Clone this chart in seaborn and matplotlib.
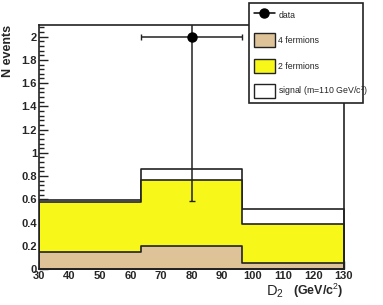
import numpy as np
import matplotlib
matplotlib.use("Agg")
import matplotlib.pyplot as plt
import seaborn as sns
from matplotlib.lines import Line2D
from matplotlib.patches import Patch
from matplotlib.ticker import MultipleLocator

# ---- data ----
bin_edges = [30.0, 63.33, 96.67, 130.0]
four_fermions_top = [0.143, 0.200, 0.048]      # 4 fermions
two_fermions_top = [0.575, 0.767, 0.390]       # 4f + 2f (stacked)
signal_top = [0.590, 0.860, 0.520]             # 4f + 2f + signal (stacked)
data_x = [80.0]
data_y = [2.0]
data_xerr = [16.67]
data_yerr = [1.414]
legend_labels = ["data", "4 fermions", "2 fermions", "signal (m=110 GeV/c$^{2}$)"]

sns.set_style("ticks")
plt.rcParams["font.family"] = ["Liberation Sans", "DejaVu Sans"]
plt.rcParams["mathtext.fontset"] = "custom"
plt.rcParams["mathtext.rm"] = "Liberation Sans"
plt.rcParams["mathtext.it"] = "Liberation Sans"
plt.rcParams["mathtext.bf"] = "Liberation Sans:bold"

fig = plt.figure(figsize=(3.83, 3.05), dpi=100)
ax = fig.add_axes([0.102, 0.118, 0.796, 0.800])

centers = [(bin_edges[i] + bin_edges[i + 1]) / 2 for i in range(len(bin_edges) - 1)]
tan = "#dec398"
yellow = "#f7f71a"
edge = "#222222"

for vals, col in [(signal_top, "white"), (two_fermions_top, yellow), (four_fermions_top, tan)]:
    sns.histplot(x=centers, weights=vals, bins=bin_edges, element="step", fill=True,
                 color=col, facecolor=col, edgecolor=edge, linewidth=1.2, alpha=1.0,
                 ax=ax, legend=False)

ax.errorbar(data_x, data_y, xerr=data_xerr, yerr=data_yerr, fmt="o", color="black",
            ecolor="#222222", markersize=6.5, elinewidth=1.1, capsize=2.2, capthick=1.0,
            zorder=10, clip_on=True)

ax.set_xlim(30, 130)
ax.set_ylim(0, 2.1)
ax.xaxis.set_major_locator(MultipleLocator(10))
ax.xaxis.set_minor_locator(MultipleLocator(2))
ax.yaxis.set_major_locator(MultipleLocator(0.2))
ax.yaxis.set_minor_locator(MultipleLocator(0.04))
ax.yaxis.set_major_formatter(plt.FuncFormatter(lambda v, p: "%g" % round(v, 2)))
ax.tick_params(which="both", direction="in", top=False, right=False, width=1.0, color="#222222")
ax.tick_params(which="major", axis="y", length=6.5)
ax.tick_params(which="minor", axis="y", length=3.3)
ax.tick_params(which="major", axis="x", length=5.5)
ax.tick_params(which="minor", axis="x", length=3.0)
ax.tick_params(axis="both", labelsize=8.0, pad=1.5)
for lab in ax.get_xticklabels() + ax.get_yticklabels():
    lab.set_fontweight("bold")
for sp in ax.spines.values():
    sp.set_visible(True)
    sp.set_linewidth(1.2)
    sp.set_color("#222222")

ax.set_xlabel("")
ax.set_ylabel("N events", fontsize=9, fontweight="bold", loc="top", labelpad=5)
ax.text(1.0, -0.108, "(GeV/c$^{2}$)", transform=ax.transAxes, ha="right", va="baseline",
        fontsize=9, fontweight="bold")
ax.text(0.744, -0.108, "D$_{2}$", transform=ax.transAxes, ha="left", va="baseline",
        fontsize=10.5)

handles = [
    Line2D([], [], color="black", marker="o", markersize=6.5, lw=1.1),
    Patch(facecolor=tan, edgecolor=edge, lw=1.0),
    Patch(facecolor=yellow, edgecolor=edge, lw=1.0),
    Patch(facecolor="white", edgecolor=edge, lw=1.0),
]
leg = fig.legend(handles, legend_labels, loc="upper left",
                 bbox_to_anchor=(0.650, 0.662, 0.298, 0.328), mode="expand",
                 fontsize=6.3, frameon=True, fancybox=False, framealpha=1,
                 handlelength=2.4, handleheight=2.1, labelspacing=1.3,
                 handletextpad=0.4, borderpad=0.55, borderaxespad=0)
leg.get_frame().set_edgecolor("#222222")
leg.get_frame().set_linewidth(1.2)

fig.savefig("out.png", dpi=100)
